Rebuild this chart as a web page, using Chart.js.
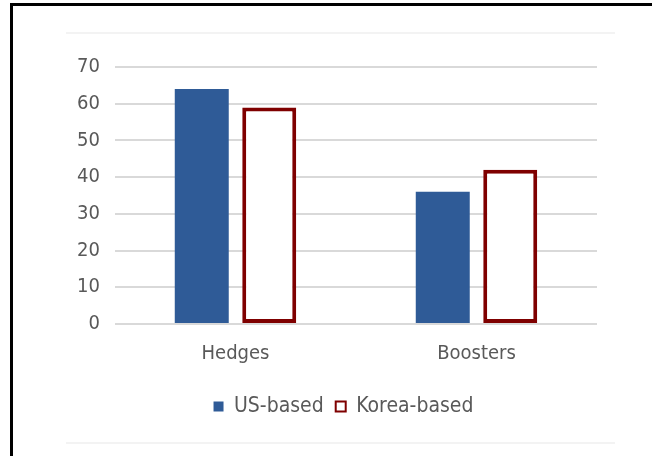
<!DOCTYPE html>
<html>
<head>
<meta charset="utf-8">
<script src="https://cdn.jsdelivr.net/npm/chart.js@4.4.1/dist/chart.umd.min.js"></script>
<style>
  html, body { margin: 0; padding: 0; background: #fff; }
  #wrap { position: relative; width: 652px; height: 456px; overflow: hidden; }
  #frame { position: absolute; left: 10px; top: 3px; width: 660px; height: 470px;
           border-left: 3px solid #000; border-top: 3px solid #000; }
  #chart { position: absolute; left: 0; top: 0; }
</style>
</head>
<body>
<div id="wrap">
  <div id="frame"></div>
  <canvas id="chart" width="652" height="456"></canvas>
</div>
<script>
// данные
const categories = ['Hedges', 'Boosters'];
const seriesNames = ['US-based', 'Korea-based'];
const usBased = [64, 36];
const koreaBased = [59, 42];
const yTicks = [0, 10, 20, 30, 40, 50, 60, 70];

const textGrey = '#595959';
const fontFamily = '"DejaVu Sans Condensed", "DejaVu Sans", sans-serif';

// лёгкая рамка внутри, сдвиг легенды
const extras = {
    id: 'extras',
    afterLayout(chart) {
        chart.legend.left += 45;
        chart.legend.right += 45;
    },
    beforeDraw(chart) {
        const ctx = chart.ctx;
        ctx.save();
        ctx.strokeStyle = '#f3f3f3';
        ctx.lineWidth = 2;
        ctx.beginPath();
        ctx.moveTo(66, 33); ctx.lineTo(615, 33);
        ctx.moveTo(66, 443); ctx.lineTo(615, 443);
        ctx.stroke();
        ctx.restore();
    }
};

new Chart(document.getElementById('chart'), {
    type: 'bar',
    data: {
        labels: categories,
        datasets: [{
            label: seriesNames[0],
            data: usBased,
            backgroundColor: '#2f5b97',
            borderWidth: 0
        }, {
            label: seriesNames[1],
            data: koreaBased,
            backgroundColor: '#ffffff',
            borderColor: '#7f0000',
            borderWidth: 4,
            borderSkipped: false
        }]
    },
    options: {
        responsive: false,
        animation: false,
        categoryPercentage: 0.56,
        barPercentage: 0.8,
        layout: { padding: { top: 67, right: 55, bottom: 29, left: 0 } },
        plugins: {
            tooltip: { enabled: false },
            legend: {
                position: 'bottom',
                labels: {
                    color: textGrey,
                    font: { family: fontFamily, size: 21 },
                    boxWidth: 10,
                    boxHeight: 10,
                    padding: 12,
                    generateLabels(chart) {
                        return seriesNames.map((name, i) => ({
                            text: name,
                            fillStyle: i === 0 ? '#2f5b97' : '#ffffff',
                            strokeStyle: i === 0 ? '#2f5b97' : '#7f0000',
                            lineWidth: i === 0 ? 0 : 2,
                            datasetIndex: i,
                            fontColor: textGrey
                        }));
                    }
                }
            }
        },
        scales: {
            x: {
                grid: { display: false, drawTicks: false },
                border: { display: false },
                ticks: { color: textGrey, font: { family: fontFamily, size: 20 }, padding: 18 }
            },
            y: {
                min: 0,
                max: 70,
                afterFit(s) { s.width = 115; },
                afterBuildTicks(s) { s.ticks = yTicks.map(v => ({ value: v })); },
                grid: { color: '#d9d9d9', lineWidth: 2, drawTicks: false },
                border: { display: false },
                ticks: { color: textGrey, font: { family: fontFamily, size: 20 }, padding: 15 }
            }
        }
    },
    plugins: [extras]
});
</script>
</body>
</html>
